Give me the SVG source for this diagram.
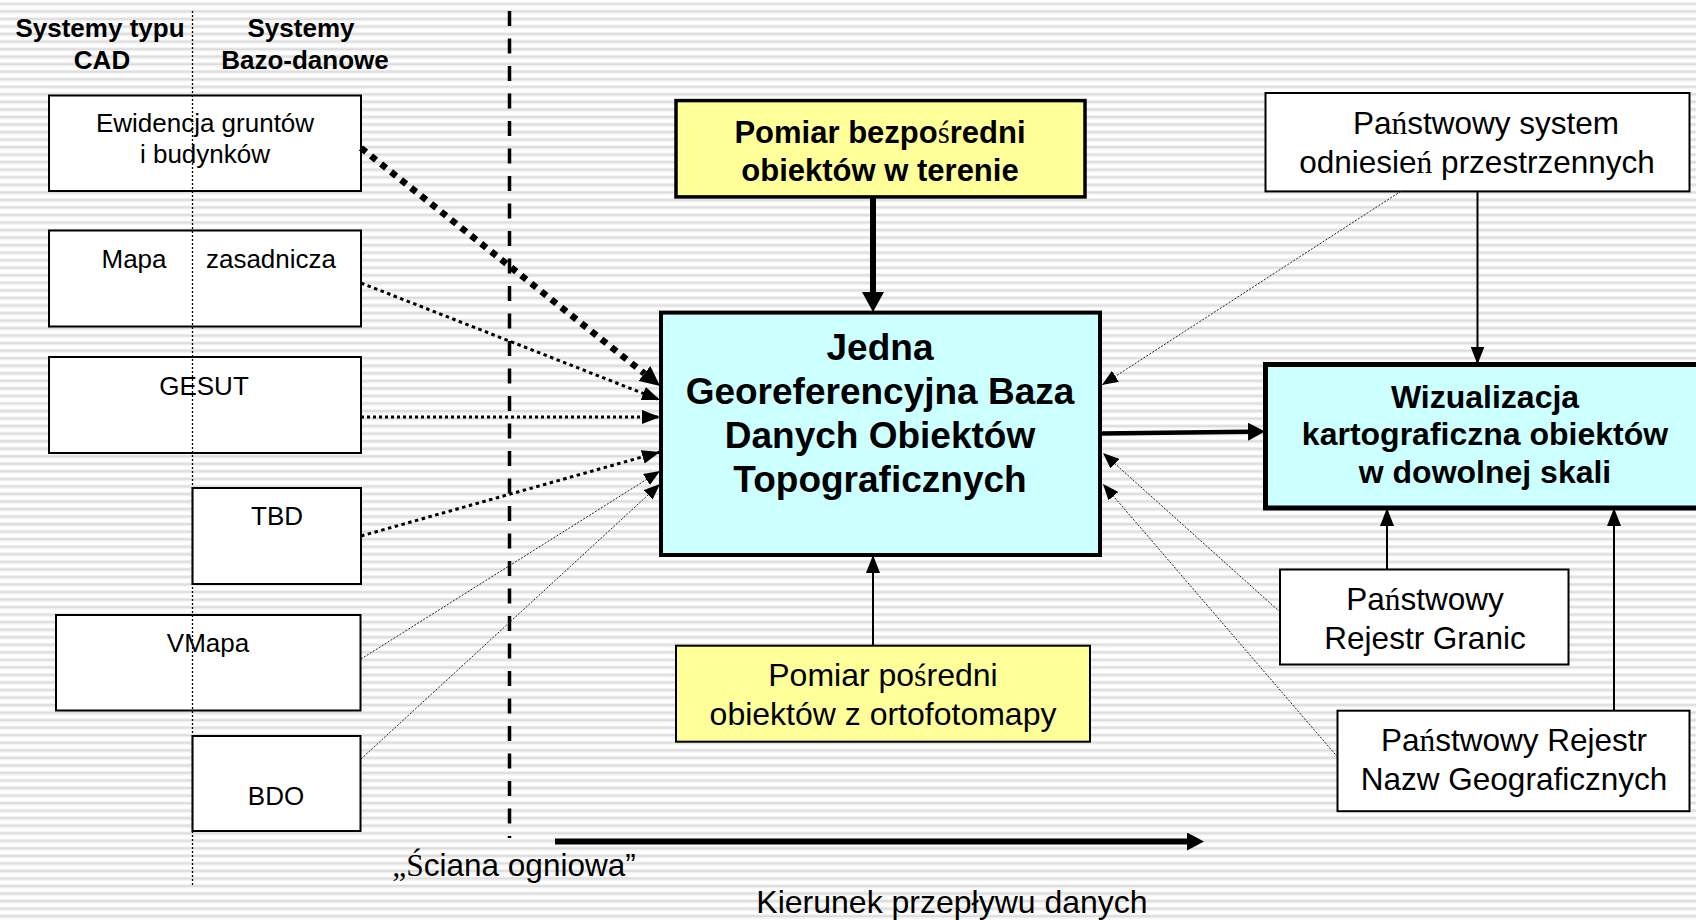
<svg xmlns="http://www.w3.org/2000/svg" width="1696" height="920" viewBox="0 0 1696 920">
<defs>
<pattern id="bg" width="16" height="7.54" patternUnits="userSpaceOnUse">
<rect width="16" height="7.54" fill="#ffffff"/>
<rect y="2" width="16" height="1" fill="#eeeeee"/>
<rect y="3" width="16" height="2" fill="#dcdcdc"/>
<rect y="5" width="16" height="1" fill="#eeeeee"/>
</pattern>
<marker id="mBig" markerUnits="userSpaceOnUse" markerWidth="20" markerHeight="22" refX="0" refY="11" orient="auto"><path d="M0,0 L20,11 L0,22 z" fill="#000"/></marker>
<marker id="mDot" markerUnits="userSpaceOnUse" markerWidth="20" markerHeight="19" refX="0" refY="9.5" orient="auto"><path d="M0,0 L20,9.5 L0,19 z" fill="#000"/></marker>
<marker id="mK" markerUnits="userSpaceOnUse" markerWidth="17" markerHeight="18" refX="0" refY="9" orient="auto"><path d="M0,0 L17,9 L0,18 z" fill="#000"/></marker>
<marker id="mTip" markerUnits="userSpaceOnUse" markerWidth="18" markerHeight="14" refX="18" refY="7" orient="auto"><path d="M0,0 L18,7 L0,14 z" fill="#000"/></marker>
<marker id="mThin" markerUnits="userSpaceOnUse" markerWidth="16" markerHeight="13" refX="16" refY="6.5" orient="auto"><path d="M0,0 L16,6.5 L0,13 z" fill="#000"/></marker>
</defs>
<style>
.box{fill:#ffffff;stroke:#000;stroke-width:2}
.yel{fill:#ffff99;stroke:#000}
.cyan{fill:#ccffff;stroke:#000}
text{font-family:"Liberation Sans",Arial,sans-serif;fill:#000;text-anchor:middle}
.t26{font-size:26px}
.b26{font-size:26px;font-weight:bold}
.t31{font-size:31.5px}
.t32{font-size:32px}
.b31{font-size:31px;font-weight:bold}
.b32{font-size:32px;font-weight:bold}
.b37{font-size:37px;font-weight:bold}
.sf{font-family:"Liberation Serif","Times New Roman",serif;font-weight:normal}
.c{fill:none;stroke:#000}
.thin{stroke-width:1;stroke-dasharray:2 1.5;stroke:#222}
</style>
<rect width="1696" height="920" fill="url(#bg)"/>

<g id="headers">
<text class="b26" x="100" y="37">Systemy typu</text>
<text class="b26" x="102" y="69">CAD</text>
<text class="b26" x="301" y="37">Systemy</text>
<text class="b26" x="305" y="69">Bazo-danowe</text>
</g>

<g id="firewall">
<line x1="509.5" y1="11" x2="509.5" y2="838" stroke="#000" stroke-width="3.5" stroke-dasharray="15 12.5"/>
<text class="t31" x="514" y="876"><tspan class="sf">„Ś</tspan>ciana ogniowa”</text>
</g>

<g id="n-ewidencja">
<rect class="box" x="49" y="95.5" width="312" height="95.5"/>
<text class="t26" x="205" y="132">Ewidencja gruntów</text>
<text class="t26" x="205" y="163">i budynków</text>
</g>
<g id="n-mapa">
<rect class="box" x="49" y="230.5" width="312" height="96"/>
<text class="t26" x="134" y="268">Mapa</text>
<text class="t26" x="271" y="268">zasadnicza</text>
</g>
<g id="n-gesut">
<rect class="box" x="49" y="357" width="312" height="96"/>
<text class="t26" x="204" y="395">GESUT</text>
</g>
<g id="n-tbd">
<rect class="box" x="192.5" y="488" width="168.5" height="96"/>
<text class="t26" x="277" y="525">TBD</text>
</g>
<g id="n-vmapa">
<rect class="box" x="56" y="615" width="304.5" height="95.5"/>
<text class="t26" x="208" y="652">VMapa</text>
</g>
<g id="n-bdo">
<rect class="box" x="192.5" y="736" width="168" height="95"/>
<text class="t26" x="276" y="805">BDO</text>
</g>

<g id="n-pomiar-bezposredni">
<rect class="yel" x="676" y="100.6" width="409" height="96.3" stroke-width="3.5"/>
<text class="b31" x="880" y="143">Pomiar bezpo<tspan class="sf">ś</tspan>redni</text>
<text class="b31" x="880" y="181">obiektów w terenie</text>
</g>

<g id="n-baza">
<rect class="cyan" x="661" y="312.6" width="439" height="242.4" stroke-width="4"/>
<text class="b37" x="880" y="360">Jedna</text>
<text class="b37" x="880" y="404">Georeferencyjna Baza</text>
<text class="b37" x="880" y="448">Danych Obiektów</text>
<text class="b37" x="880" y="492">Topograficznych</text>
</g>

<g id="n-pomiar-posredni">
<rect class="yel" x="676" y="645.7" width="414" height="96" stroke-width="2"/>
<text class="t32" x="883" y="686">Pomiar po<tspan class="sf">ś</tspan>redni</text>
<text class="t32" x="883" y="725">obiektów z ortofotomapy</text>
</g>

<g id="n-system">
<rect class="box" x="1265.5" y="93" width="424" height="98.4"/>
<text class="t31" x="1486" y="134">Pa<tspan class="sf">ń</tspan>stwowy system</text>
<text class="t31" x="1477" y="173">odniesie<tspan class="sf">ń</tspan> przestrzennych</text>
</g>

<g id="n-wizualizacja">
<rect class="cyan" x="1265.5" y="364.5" width="440" height="143.5" stroke-width="5"/>
<text class="b32" x="1485" y="408">Wizualizacja</text>
<text class="b32" x="1485" y="445">kartograficzna obiektów</text>
<text class="b32" x="1485" y="483">w dowolnej skali</text>
</g>

<g id="n-granic">
<rect class="box" x="1280" y="569.5" width="288.5" height="95"/>
<text class="t31" x="1425" y="610">Pa<tspan class="sf">ń</tspan>stwowy</text>
<text class="t31" x="1425" y="649">Rejestr Granic</text>
</g>

<g id="n-nazw">
<rect class="box" x="1337.5" y="710.7" width="352" height="100.5"/>
<text class="t31" x="1514" y="751">Pa<tspan class="sf">ń</tspan>stwowy Rejestr</text>
<text class="t31" x="1514" y="790">Nazw Geograficznych</text>
</g>

<g id="connectors">
<line class="c" x1="361" y1="148" x2="644.4" y2="373.5" stroke-width="6.5" stroke-dasharray="6.5 6.3" marker-end="url(#mDot)"/>
<line class="c" x1="361" y1="283" x2="660" y2="400" stroke-width="3" stroke-dasharray="3.5 3.5" marker-end="url(#mTip)"/>
<line class="c" x1="361" y1="417" x2="660" y2="417" stroke-width="3" stroke-dasharray="3 3" marker-end="url(#mTip)"/>
<line class="c" x1="361" y1="536" x2="660" y2="452" stroke-width="3" stroke-dasharray="3.5 3.5" marker-end="url(#mTip)"/>
<line class="c thin" x1="361" y1="659" x2="660" y2="471" marker-end="url(#mThin)"/>
<line class="c thin" x1="361" y1="759" x2="660" y2="484" marker-end="url(#mThin)"/>
<line class="c" x1="873" y1="197" x2="873" y2="292" stroke-width="6" marker-end="url(#mBig)"/>
<line class="c" x1="873" y1="645.7" x2="873" y2="555" stroke-width="2" marker-end="url(#mTip)"/>
<line class="c" x1="1101" y1="433.5" x2="1248" y2="431.7" stroke-width="4.5" marker-end="url(#mK)"/>
<line class="c thin" x1="1400.7" y1="191.4" x2="1102" y2="385" marker-end="url(#mThin)"/>
<line class="c" x1="1477.5" y1="191.4" x2="1477.5" y2="364.5" stroke-width="2" marker-end="url(#mTip)"/>
<line class="c thin" x1="1280" y1="612" x2="1103" y2="453" marker-end="url(#mThin)"/>
<line class="c thin" x1="1337.5" y1="757" x2="1103" y2="484" marker-end="url(#mThin)"/>
<line class="c" x1="1387" y1="569.5" x2="1387" y2="508" stroke-width="2" marker-end="url(#mTip)"/>
<line class="c" x1="1614" y1="710.7" x2="1614" y2="508" stroke-width="2" marker-end="url(#mTip)"/>
<line class="c" x1="555" y1="841.5" x2="1187" y2="841.5" stroke-width="6" marker-end="url(#mK)"/>
</g>

<g id="direction-label">
<text class="t32" x="952" y="913">Kierunek przepływu danych</text>
</g>

<g id="cad-divider">
<line x1="192.5" y1="11" x2="192.5" y2="887" stroke="#000" stroke-width="1.3" stroke-dasharray="2 2"/>
</g>
</svg>
